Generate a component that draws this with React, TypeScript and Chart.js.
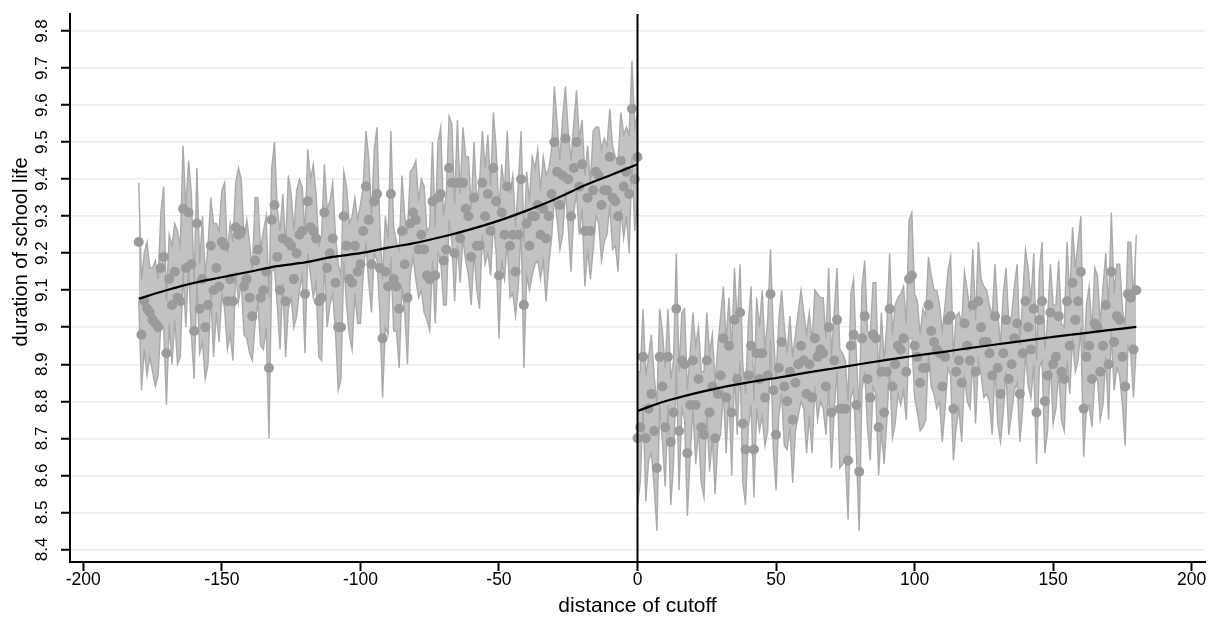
import React, { useEffect, useRef } from "react";
import { Chart, registerables } from "chart.js";

Chart.register(...registerables);

// ---------- data ----------
const leftStart = -180;
const rightStart = 0;

const leftValues = [
  9.23, 8.98, 9.07, 9.05, 9.04, 9.02, 9.01, 9.0, 9.16, 9.19,
  8.93, 9.13, 9.06, 9.15, 9.08, 9.07, 9.32, 9.16, 9.31, 9.17,
  8.99, 9.28, 9.05, 9.13, 9.0, 9.06, 9.22, 9.1, 9.16, 9.11,
  9.23, 9.22, 9.07, 9.13, 9.07, 9.27, 9.25, 9.26, 9.11, 9.13,
  9.08, 9.03, 9.18, 9.21, 9.08, 9.1, 9.15, 8.89, 9.29, 9.33,
  9.19, 9.1, 9.24, 9.07, 9.23, 9.22, 9.13, 9.2, 9.25, 9.26,
  9.09, 9.34, 9.27, 9.26, 9.24, 9.07, 9.08, 9.31, 9.16, 9.2,
  9.24, 9.12, 9.0, 9.0, 9.3, 9.22, 9.13, 9.12, 9.22, 9.15,
  9.17, 9.26, 9.38, 9.29, 9.17, 9.34, 9.36, 9.16, 8.97, 9.15,
  9.11, 9.36, 9.13, 9.11, 9.05, 9.26, 9.17, 9.08, 9.28, 9.31,
  9.29, 9.21, 9.25, 9.21, 9.14, 9.13, 9.34, 9.14, 9.35, 9.36,
  9.18, 9.21, 9.43, 9.39, 9.2, 9.39, 9.24, 9.39, 9.32, 9.3,
  9.19, 9.35, 9.22, 9.22, 9.39, 9.3, 9.36, 9.26, 9.43, 9.34,
  9.14, 9.31, 9.25, 9.38, 9.22, 9.25, 9.15, 9.25, 9.4, 9.06,
  9.28, 9.22, 9.3, 9.3, 9.33, 9.25, 9.32, 9.24, 9.3, 9.36,
  9.5, 9.42, 9.33, 9.41, 9.51, 9.4, 9.3, 9.43, 9.5, 9.38,
  9.44, 9.26, 9.35, 9.26, 9.37, 9.42, 9.41, 9.33, 9.37, 9.37,
  9.46, 9.35, 9.34, 9.3, 9.45, 9.38, 9.42, 9.36, 9.59, 9.4,
  9.46,
];

const leftHalfCI = [
  0.16, 0.15, 0.13, 0.18, 0.12, 0.14, 0.17, 0.13, 0.15, 0.19,
  0.14, 0.12, 0.16, 0.13, 0.18, 0.15, 0.17, 0.16, 0.14, 0.19,
  0.13, 0.15, 0.12, 0.17, 0.14, 0.16, 0.13, 0.18, 0.12, 0.15,
  0.14, 0.17, 0.13, 0.15, 0.16, 0.12, 0.18, 0.14, 0.13, 0.16,
  0.15, 0.12, 0.17, 0.14, 0.13, 0.16, 0.15, 0.19, 0.14, 0.17,
  0.13, 0.16, 0.12, 0.15, 0.18, 0.14, 0.13, 0.17, 0.15, 0.12,
  0.16, 0.14, 0.13, 0.18, 0.12, 0.15, 0.17, 0.13, 0.16, 0.14,
  0.15, 0.13, 0.17, 0.14, 0.12, 0.16, 0.15, 0.18, 0.13, 0.14,
  0.16, 0.12, 0.15, 0.17, 0.13, 0.14, 0.18, 0.12, 0.16, 0.15,
  0.13, 0.17, 0.14, 0.12, 0.16, 0.15, 0.13, 0.18, 0.14, 0.12,
  0.16, 0.13, 0.15, 0.17, 0.12, 0.14, 0.16, 0.13, 0.15, 0.18,
  0.12, 0.15, 0.14, 0.16, 0.13, 0.17, 0.12, 0.15, 0.14, 0.16,
  0.13, 0.15, 0.12, 0.17, 0.14, 0.13, 0.16, 0.12, 0.15, 0.14,
  0.17, 0.13, 0.12, 0.15, 0.14, 0.16, 0.12, 0.14, 0.13, 0.17,
  0.14, 0.12, 0.16, 0.13, 0.15, 0.12, 0.14, 0.17, 0.13, 0.12,
  0.15, 0.13, 0.12, 0.16, 0.14, 0.13, 0.15, 0.12, 0.14, 0.13,
  0.12, 0.15, 0.14, 0.13, 0.16, 0.12, 0.13, 0.15, 0.14, 0.12,
  0.13, 0.14, 0.12, 0.15, 0.13, 0.14, 0.12, 0.16, 0.13, 0.14,
  0.12,
];

const rightValues = [
  8.7, 8.73, 8.92, 8.7, 8.78, 8.82, 8.72, 8.62, 8.92, 8.84,
  8.73, 8.92, 8.69, 8.77, 9.05, 8.72, 8.91, 8.9, 8.66, 8.79,
  8.91, 8.79, 8.86, 8.73, 8.71, 8.91, 8.77, 8.84, 8.7, 8.82,
  8.87, 8.97, 8.81, 8.95, 8.77, 9.02, 8.86, 9.04, 8.74, 8.67,
  8.87, 8.95, 8.67, 8.93, 8.86, 8.93, 8.81, 8.87, 9.09, 8.83,
  8.71, 8.89, 8.96, 8.84, 8.8, 8.88, 8.75, 8.85, 8.9, 8.95,
  8.91, 8.82, 8.9, 8.81, 8.97, 8.92, 8.94, 8.93, 8.84, 9.0,
  8.77, 8.91, 9.02, 8.78, 8.78, 8.78, 8.64, 8.95, 8.98, 8.79,
  8.61, 8.97, 9.03, 8.86, 8.81, 8.98, 8.97, 8.73, 8.88, 8.77,
  8.88, 9.05, 8.84, 8.9, 8.95, 8.94, 8.97, 8.88, 9.13, 9.14,
  8.95, 8.92, 8.85, 8.89, 8.89, 9.06, 8.99, 8.96, 8.94, 8.93,
  8.84, 8.92, 9.02, 9.03, 8.78, 8.88, 8.91, 8.85, 9.01, 8.95,
  8.91, 9.06, 8.88, 9.07, 9.0, 8.96, 8.96, 8.93, 8.87, 9.03,
  8.89, 8.82, 8.93, 9.02, 8.86, 8.9, 8.97, 9.01, 8.82, 8.93,
  9.07, 9.0, 8.94, 9.05, 8.77, 9.02, 9.07, 8.8, 8.87, 9.04,
  8.9, 8.92, 9.03, 8.88, 8.86, 9.07, 8.95, 9.12, 9.02, 9.07,
  9.15, 8.78, 8.92, 8.95, 8.86, 9.01, 9.0, 8.88, 8.95, 9.06,
  8.9, 9.15, 8.96, 9.03, 9.02, 8.92, 8.84, 9.09, 9.08, 8.94,
  9.1,
];

const rightHalfCI = [
  0.18, 0.15, 0.13, 0.17, 0.14, 0.16, 0.15, 0.17, 0.13, 0.15,
  0.16, 0.13, 0.17, 0.14, 0.15, 0.16, 0.13, 0.15, 0.17, 0.14,
  0.13, 0.16, 0.14, 0.15, 0.17, 0.13, 0.16, 0.14, 0.15, 0.13,
  0.16, 0.14, 0.15, 0.13, 0.17, 0.14, 0.15, 0.13, 0.16, 0.15,
  0.14, 0.16, 0.13, 0.15, 0.14, 0.17, 0.13, 0.15, 0.12, 0.16,
  0.15, 0.13, 0.14, 0.16, 0.13, 0.15, 0.17, 0.13, 0.14, 0.15,
  0.13, 0.16, 0.14, 0.15, 0.13, 0.17, 0.14, 0.15, 0.13, 0.16,
  0.15, 0.13, 0.14, 0.16, 0.15, 0.13, 0.16, 0.14, 0.15, 0.13,
  0.16, 0.14, 0.15, 0.13, 0.17, 0.14, 0.15, 0.13, 0.16, 0.14,
  0.13, 0.15, 0.14, 0.16, 0.13, 0.15, 0.14, 0.13, 0.16, 0.17,
  0.14, 0.15, 0.13, 0.16, 0.14, 0.13, 0.15, 0.14, 0.16, 0.13,
  0.15, 0.14, 0.13, 0.16, 0.14, 0.15, 0.13, 0.16, 0.14, 0.15,
  0.13, 0.15, 0.14, 0.16, 0.13, 0.15, 0.14, 0.13, 0.16, 0.14,
  0.15, 0.13, 0.16, 0.14, 0.15, 0.13, 0.14, 0.16, 0.13, 0.15,
  0.14, 0.16, 0.13, 0.15, 0.14, 0.13, 0.16, 0.14, 0.15, 0.13,
  0.16, 0.14, 0.15, 0.13, 0.14, 0.16, 0.13, 0.15, 0.14, 0.16,
  0.15, 0.13, 0.14, 0.16, 0.13, 0.15, 0.14, 0.13, 0.16, 0.14,
  0.15, 0.16, 0.13, 0.14, 0.15, 0.13, 0.16, 0.14, 0.15, 0.13,
  0.15,
];

const fitLeftX = [-180, -170, -160, -150, -140, -130, -120, -110, -100, -90, -80, -70, -60, -50, -40, -30, -20, -10, 0];
const fitLeftY = [9.077, 9.1, 9.12, 9.135, 9.15, 9.165, 9.175, 9.19, 9.2, 9.215, 9.228, 9.245, 9.265, 9.288, 9.315, 9.345, 9.38, 9.41, 9.44];
const fitRightX = [0, 10, 20, 30, 40, 50, 60, 70, 80, 90, 100, 110, 120, 130, 140, 150, 160, 170, 180];
const fitRightY = [8.774, 8.8, 8.82, 8.837, 8.851, 8.863, 8.876, 8.888, 8.9, 8.912, 8.923, 8.933, 8.944, 8.954, 8.964, 8.974, 8.983, 8.992, 9.001];

const cutoff = 0;
const xTicks = [-200, -150, -100, -50, 0, 50, 100, 150, 200];
const xTickLabels = ["-200", "-150", "-100", "-50", "0", "50", "100", "150", "200"];
const yTicks = [8.4, 8.5, 8.6, 8.7, 8.8, 8.9, 9.0, 9.1, 9.2, 9.3, 9.4, 9.5, 9.6, 9.7, 9.8];
const yTickLabels = ["8.4", "8.5", "8.6", "8.7", "8.8", "8.9", "9", "9.1", "9.2", "9.3", "9.4", "9.5", "9.6", "9.7", "9.8"];
const xTitle = "distance of cutoff";
const yTitle = "duration of school life";

const FONT = "'Liberation Sans', Arial, Helvetica, sans-serif";

export default function App() {
  const ref = useRef<HTMLCanvasElement | null>(null);

  useEffect(() => {
    document.body.style.margin = "0";
    const canvas = ref.current;
    if (!canvas) return;

    const pts = (start: number, vals: number[]) => vals.map((v, i) => ({ x: start + i, y: v }));
    const band = (start: number, vals: number[], hw: number[], sign: number) =>
      vals.map((v, i) => ({ x: start + i, y: v + sign * hw[i] }));

    const bandStyle = {
      type: "line" as const,
      borderColor: "#aaaaaa",
      borderWidth: 1.4,
      pointRadius: 0,
      backgroundColor: "#c2c2c2",
      order: 3,
    };
    const dotStyle = {
      type: "scatter" as const,
      pointRadius: 5,
      pointBackgroundColor: "#9b9b9b",
      pointBorderWidth: 0,
      backgroundColor: "#9b9b9b",
      order: 2,
    };
    const fitStyle = {
      type: "line" as const,
      borderColor: "#000000",
      borderWidth: 2.2,
      pointRadius: 0,
      cubicInterpolationMode: "monotone" as const,
      fill: false,
      order: 1,
    };

    const drawText = (ctx: any, text: string, x: number, y: number, rotate: boolean) => {
      ctx.save();
      ctx.translate(x, y);
      if (rotate) ctx.rotate(-Math.PI / 2);
      ctx.fillText(text, 0, 0);
      ctx.restore();
    };

    const textPlugin = {
      id: "stataText",
      afterDatasetsDraw(chart: any) {
        const { ctx, chartArea, scales } = chart;
        const x0 = scales.x.getPixelForValue(cutoff);
        ctx.save();
        ctx.strokeStyle = "#000";
        ctx.lineWidth = 2;
        ctx.beginPath();
        ctx.moveTo(x0, chartArea.top);
        ctx.lineTo(x0, chartArea.bottom);
        ctx.stroke();
        ctx.restore();
      },
      afterDraw(chart: any) {
        const { ctx, chartArea, scales } = chart;
        ctx.save();
        ctx.fillStyle = "#000";
        ctx.textAlign = "center";
        ctx.textBaseline = "middle";
        // y tick labels (rotated)
        ctx.font = `17px ${FONT}`;
        yTicks.forEach((v, i) => {
          drawText(ctx, yTickLabels[i], 42, scales.y.getPixelForValue(v), true);
        });
        // y title
        ctx.font = `20px ${FONT}`;
        drawText(ctx, yTitle, 21, 252, true);
        // x tick labels
        ctx.font = `17.5px ${FONT}`;
        xTicks.forEach((v, i) => {
          drawText(ctx, xTickLabels[i], scales.x.getPixelForValue(v), 580, false);
        });
        // x title
        ctx.font = `21px ${FONT}`;
        drawText(ctx, xTitle, (chartArea.left + chartArea.right) / 2, 606, false);
        ctx.restore();
      },
    };

    const chart = new Chart(canvas, {
      type: "scatter",
      data: {
        datasets: [
          { ...fitStyle, data: fitLeftX.map((x, i) => ({ x, y: fitLeftY[i] })) },
          { ...fitStyle, data: fitRightX.map((x, i) => ({ x, y: fitRightY[i] })) },
          { ...dotStyle, data: pts(leftStart, leftValues) },
          { ...dotStyle, data: pts(rightStart, rightValues) },
          { ...bandStyle, fill: "+1", data: band(leftStart, leftValues, leftHalfCI, 1) },
          { ...bandStyle, fill: false, data: band(leftStart, leftValues, leftHalfCI, -1) },
          { ...bandStyle, fill: "+1", data: band(rightStart, rightValues, rightHalfCI, 1) },
          { ...bandStyle, fill: false, data: band(rightStart, rightValues, rightHalfCI, -1) },
        ] as any,
      },
      options: {
        responsive: false,
        animation: false,
        events: [],
        layout: { padding: { top: 14, left: 0, right: 0, bottom: 0 } },
        plugins: {
          legend: { display: false },
          tooltip: { enabled: false },
          filler: { drawTime: "beforeDatasetsDraw" },
        } as any,
        scales: {
          x: {
            type: "linear",
            min: -204.8,
            max: 204.8,
            afterBuildTicks: (s: any) => {
              s.ticks = xTicks.map((v) => ({ value: v }));
            },
            afterFit: (s: any) => {
              s.height = 57;
            },
            ticks: { display: false },
            grid: {
              drawOnChartArea: false,
              drawTicks: true,
              tickLength: 9,
              tickWidth: 2,
              tickColor: "#000",
            },
            border: { display: true, color: "#000", width: 2 },
          },
          y: {
            type: "linear",
            min: 8.366,
            max: 9.846,
            afterBuildTicks: (s: any) => {
              s.ticks = yTicks.map((v) => ({ value: v }));
            },
            afterFit: (s: any) => {
              s.width = 70;
            },
            ticks: { display: false },
            grid: {
              color: "#e5eef0",
              lineWidth: 1.5,
              drawTicks: true,
              tickLength: 9,
              tickWidth: 2,
              tickColor: "#000",
            },
            border: { display: true, color: "#000", width: 2 },
          },
        },
      } as any,
      plugins: [textPlugin],
    });

    return () => chart.destroy();
  }, []);

  return <canvas ref={ref} width={1210} height={619} style={{ display: "block" }} />;
}
